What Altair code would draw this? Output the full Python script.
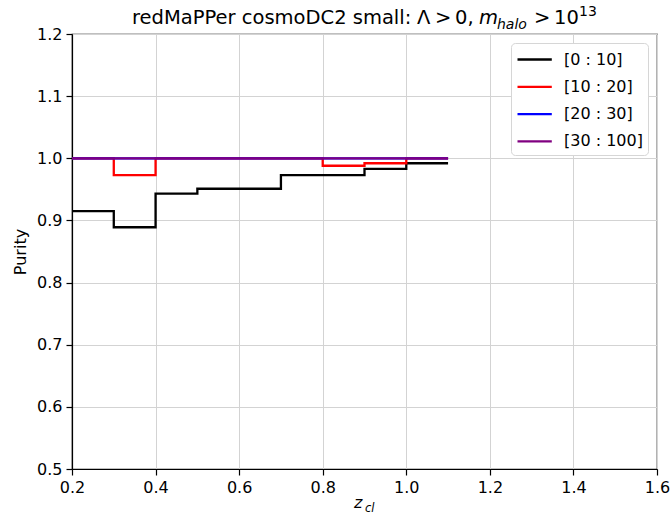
import altair as alt
import pandas as pd

# bin edges (z) and purity per richness bin; last value repeated at the closing edge
z_edges = [0.2, 0.3, 0.4, 0.5, 0.6, 0.7, 0.8, 0.9, 1.0, 1.1]
purity_0_10 = [0.915, 0.889, 0.943, 0.951, 0.951, 0.973, 0.973, 0.983, 0.992, 0.992]
purity_10_20 = [1.0, 0.973, 1.0, 1.0, 1.0, 1.0, 0.988, 0.992, 1.0, 1.0]
purity_20_30 = [1.0, 1.0, 1.0, 1.0, 1.0, 1.0, 1.0, 1.0, 1.0, 1.0]
purity_30_100 = [1.0, 1.0, 1.0, 1.0, 1.0, 1.0, 1.0, 1.0, 1.0, 1.0]

series_names = ["[0 : 10]", "[10 : 20]", "[20 : 30]", "[30 : 100]"]
series_colors = ["#000000", "#ff0000", "#0000ff", "#800080"]
series_values = [purity_0_10, purity_10_20, purity_20_30, purity_30_100]

rows = []
for order, (name, vals) in enumerate(zip(series_names, series_values)):
    for z, p in zip(z_edges, vals):
        rows.append({"z": z, "purity": p, "bin": name, "order": order})
df = pd.DataFrame(rows)

x_ticks = [0.2, 0.4, 0.6, 0.8, 1.0, 1.2, 1.4, 1.6]
y_ticks = [0.5, 0.6, 0.7, 0.8, 0.9, 1.0, 1.1, 1.2]

FONT = "DejaVu Sans"

lines = alt.Chart(df).mark_line(interpolate="step-after", strokeWidth=2.3, clip=True).encode(
    x=alt.X("z:Q", scale=alt.Scale(domain=[0.2, 1.6], nice=False, zero=False),
            axis=alt.Axis(values=x_ticks, format=".1f", title=None, labelFlush=False)),
    y=alt.Y("purity:Q", scale=alt.Scale(domain=[0.5, 1.2], nice=False, zero=False),
            axis=alt.Axis(values=y_ticks, format=".1f", title="Purity", labelFlush=False)),
    color=alt.Color("bin:N", scale=alt.Scale(domain=series_names, range=series_colors),
                    sort=series_names,
                    legend=alt.Legend(title=None, orient="top-right",
                                      symbolType="M-1,0H2.43",
                                      symbolStrokeWidth=2.3, symbolSize=400,
                                      labelFontSize=16, labelFont=FONT, labelColor="#000000",
                                      labelOffset=25,
                                      strokeColor="#d6d6d6", fillColor="#ffffff",
                                      padding=5, cornerRadius=4, rowPadding=7.3,
                                      offset=9)),
    order=alt.Order("order:Q"),
    detail="bin:N",
)


def txt(s, x, y, size, italic=False, align="left"):
    kw = dict(font=FONT, fontSize=size, align=align, baseline="alphabetic", color="#000000")
    if italic:
        kw["fontStyle"] = "italic"
    return alt.Chart(pd.DataFrame({"t": [s]})).mark_text(**kw).encode(
        text="t:N", x=alt.value(x), y=alt.value(y))


# x-axis title z_cl (positions relative to plot area origin at 72, 34)
x_title = [txt("z", 282, 474, 16, italic=True), txt("cl", 293, 478, 11.5, italic=True)]

# chart title: redMaPPer cosmoDC2 small: Λ > 0, m_halo > 10^13
TS = 19.5
SS = 14
title_parts = [
    txt("redMaPPer cosmoDC2 small:", 60, -10, TS),
    txt("Λ", 345, -10, TS),
    txt(">", 363, -10, TS),
    txt("0,", 383, -10, TS),
    txt("m", 407, -10, TS, italic=True),
    txt("halo", 425, -5, SS, italic=True),
    txt(">", 462, -10, TS),
    txt("10", 482, -10, TS),
    txt("13", 507, -18, SS),
]

chart = alt.layer(lines, *x_title, *title_parts).properties(
    width=585,
    height=435,
    padding={"left": 72, "top": 34, "right": 14, "bottom": 52},
    autosize=alt.AutoSizeParams(type="none"),
).configure_view(
    stroke="#000000", strokeWidth=1.2
).configure_axis(
    labelFont=FONT, labelFontSize=16, labelColor="#000000",
    titleFont=FONT, titleFontSize=16, titleFontWeight="normal", titleColor="#000000",
    domainColor="#000000", domainWidth=1.2, tickColor="#000000", tickSize=6, tickWidth=1.2,
    gridColor="#d3d3d3", gridWidth=1, labelPadding=4,
).configure_axisY(titlePadding=8)

chart.save("out.html", embed_options={"renderer": "svg", "actions": False})
